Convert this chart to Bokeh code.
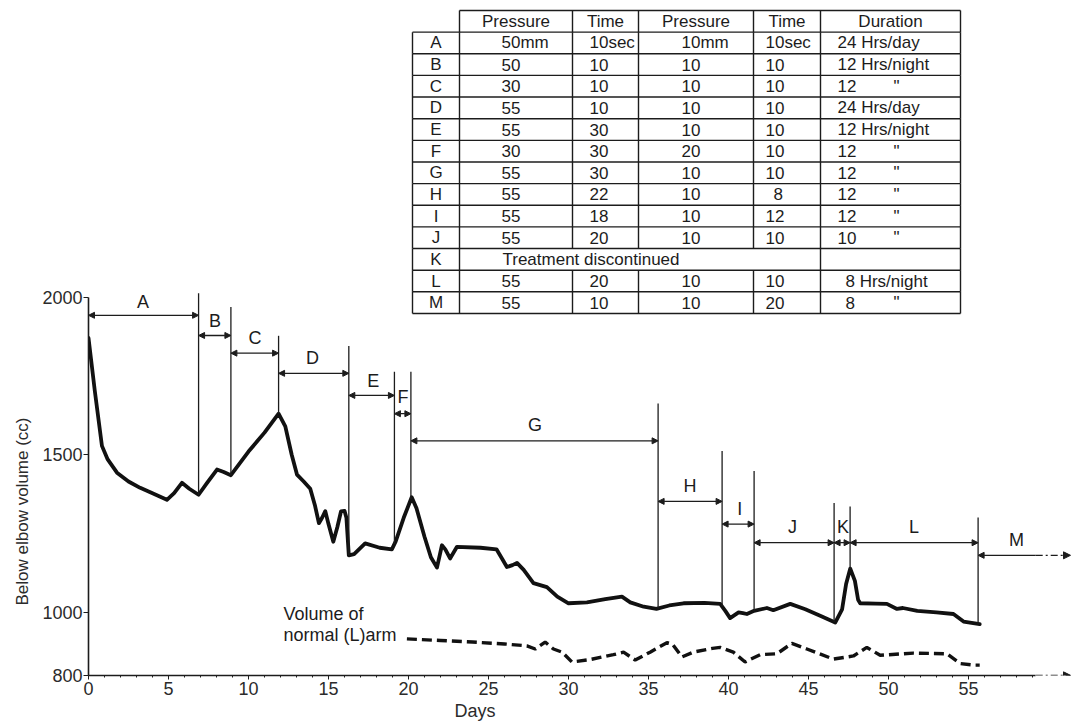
import numpy as np
from bokeh.plotting import figure
from bokeh.models import ColumnDataSource, Arrow, NormalHead, FixedTicker, Range1d, Title
from bokeh.core.properties import value
from bokeh.embed import file_html
from bokeh.resources import INLINE

# ---------------- data ----------------
days = [0.0, 0.4, 0.84, 1.2, 1.78, 2.5, 3.23, 4.0, 4.9, 5.35, 5.84, 6.3, 6.88, 7.4, 8.03, 8.45, 8.9,
        10.0, 11.0, 11.88, 12.3, 12.7, 13.03, 13.45, 13.86, 14.15, 14.4, 14.6, 14.8, 15.0, 15.3,
        15.55, 15.78, 16.0, 16.12, 16.27, 16.6, 17.29, 18.2, 18.96, 19.2, 19.7, 20.2, 20.5, 21.0,
        21.4, 21.78, 22.09, 22.3, 22.6, 23.03, 24.5, 25.5, 25.85, 26.15, 26.5, 26.78, 27.2, 27.81,
        28.65, 29.3, 30.0, 31.15, 32.3, 33.34, 33.86, 34.7, 35.5, 36.3, 37.19, 38.5, 39.48, 39.8,
        40.1, 40.63, 40.9, 41.15, 41.6, 42.4, 42.8, 43.86, 44.8, 45.8, 46.67, 47.1, 47.35, 47.61,
        47.9, 48.1, 48.23, 49.2, 49.9, 50.53, 50.9, 51.8, 53.0, 54.06, 54.69, 55.7]
volume_cc = [1870, 1700, 1528, 1485, 1443, 1415, 1395, 1378, 1357, 1378, 1411, 1392, 1373, 1410, 1453, 1445, 1435,
             1510, 1570, 1630, 1590, 1500, 1437, 1415, 1392, 1340, 1283, 1300, 1321, 1280, 1224,
             1270, 1320, 1322, 1300, 1181, 1185, 1219, 1205, 1200, 1225, 1300, 1365, 1330, 1240,
             1175, 1142, 1213, 1200, 1171, 1208, 1205, 1200, 1170, 1144, 1150, 1157, 1135, 1093,
             1080, 1050, 1029, 1032, 1042, 1050, 1032, 1018, 1011, 1022, 1029, 1030, 1027, 1005,
             982, 1000, 998, 995, 1005, 1014, 1007, 1027, 1010, 988, 968, 1010, 1090, 1139,
             1100, 1040, 1029, 1028, 1027, 1011, 1014, 1005, 1000, 995, 971, 963]

normal_days = [19.9, 22.0, 24.0, 26.0, 27.4, 27.92, 28.54, 29.06, 29.6, 30.21, 31.3, 32.81, 33.44,
               34.17, 35.1, 36.15, 36.5, 37.09, 37.8, 39.0, 39.48, 40.3, 41.04, 41.98, 43.03, 43.96,
               44.9, 46.56, 47.81, 48.65, 49.48, 51.56, 53.65, 54.48, 55.3, 55.7]
normal_cc = [916, 911, 906, 900, 894, 884, 906, 884, 874, 843, 850, 866, 874,
             849, 874, 904, 899, 859, 874, 886, 889, 874, 843, 866, 869, 902,
             884, 852, 862, 889, 864, 871, 869, 838, 833, 833]

phase_names = ["A", "B", "C", "D", "E", "F", "G", "H", "I", "J", "K", "L", "M"]
phase_start = [0.0, 6.88, 8.9, 11.88, 16.27, 19.12, 20.15, 35.6, 39.6, 41.6, 46.6, 47.6, 55.6]
phase_end = [6.88, 8.9, 11.88, 16.27, 19.12, 20.15, 35.6, 39.6, 41.6, 46.6, 47.6, 55.6, 59.2]

x_ticks = [0, 5, 10, 15, 20, 25, 30, 35, 40, 45, 50, 55]
y_ticks = [800, 1000, 1500, 2000]

# table contents
tbl_header = ["Pressure", "Time", "Pressure", "Time", "Duration"]
tbl_codes = ["A", "B", "C", "D", "E", "F", "G", "H", "I", "J", "K", "L", "M"]
pressure_on = ["50mm", "50", "30", "55", "55", "30", "55", "55", "55", "55", "", "55", "55"]
time_on = ["10sec", "10", "10", "10", "30", "30", "30", "22", "18", "20", "", "20", "10"]
pressure_off = ["10mm", "10", "10", "10", "10", "20", "10", "10", "10", "10", "", "10", "10"]
time_off = ["10sec", "10", "10", "10", "10", "10", "10", "8", "12", "10", "", "10", "20"]
duration = ["24 Hrs/day", "12 Hrs/night", '12 "', "24 Hrs/day", "12 Hrs/night", '12 "', '12 "',
            '12 "', '12 "', '10 "', "", "8 Hrs/night", '8 "']
k_note = "Treatment discontinued"

# ---------------- layout (screen geometry) ----------------
W, H = 1073, 725
FL, FB = 88, 50            # frame left / bottom border in px
PX_DAY = 16.0
X_END = (W - FL) / PX_DAY
PX_CC = (674.5 - 296.0) / 1200.0
Y0 = 800
Y1 = Y0 + (H - FB) / PX_CC


def dx(px):  # screen px -> day
    return (px - FL) / PX_DAY


def dy(py):  # screen px -> cc
    return Y0 + (H - FB - py) / PX_CC


FONT = "Liberation Sans"
INK = "#1c1c1c"
GREY = "#2b2b2b"

p = figure(width=W, height=H, x_range=Range1d(0, X_END), y_range=Range1d(Y0, Y1),
           output_backend="svg", toolbar_location=None,
           min_border_left=FL, min_border_right=0, min_border_top=0, min_border_bottom=FB)
p.outline_line_color = None
p.grid.visible = False
p.background_fill_color = "white"
p.border_fill_color = "white"

for ax in (p.xaxis, p.yaxis):
    ax.axis_line_color = INK
    ax.axis_line_width = 1.6
    ax.major_tick_line_color = INK
    ax.minor_tick_line_color = INK
    ax.major_label_text_font = FONT
    ax.major_label_text_font_size = "18px"
    ax.major_label_text_color = GREY
    ax.major_tick_in = 0

p.yaxis.ticker = FixedTicker(ticks=y_ticks)
p.yaxis.bounds = (800, 2000)
p.yaxis.major_tick_out = 5
p.yaxis.minor_tick_out = 0
p.yaxis.minor_tick_in = 0
p.yaxis.major_label_standoff = 1

p.xaxis.ticker = FixedTicker(ticks=x_ticks, minor_ticks=list(range(0, 60)))
p.xaxis.bounds = (0, 59.2)
p.xaxis.major_tick_out = 4
p.xaxis.minor_tick_out = 2
p.xaxis.minor_tick_in = 0
p.xaxis.major_label_standoff = 2

# axis titles placed as side titles so they can be offset like the original
p.add_layout(Title(text="Days", align="left", offset=366, standoff=2, text_font=FONT,
                   text_font_size="18px", text_font_style="normal", text_color=GREY), "below")
p.add_layout(Title(text="Below elbow volume (cc)", align="left", offset=70, standoff=16, text_font=FONT,
                   text_font_size="17px", text_font_style="normal", text_color=GREY), "left")

# axis extension arrow (dash-dot)
p.add_layout(Arrow(x_start=59.2, y_start=800.5, x_end=dx(1070), y_end=800.5,
                   line_color=INK, line_width=1.4, line_dash="7 3 2 3",
                   end=NormalHead(size=7, fill_color=INK, line_color=INK, line_width=1)))

# curves
p.line(days, volume_cc, line_color="#111111", line_width=3.8, line_join="round", line_cap="round")
p.line(normal_days, normal_cc, line_color="#111111", line_width=3.4, line_dash="10 5")

# phase boundary lines, from the curve upward
boundary_days = phase_end[:-1]
boundary_top = [2012, 1968, 1877, 1845, 1763, 1763, 1662, 1512, 1448, 1347, 1336, 1301]
boundary_bottom = list(np.interp(boundary_days, days, volume_cc))
p.segment(x0=boundary_days, y0=boundary_bottom, x1=boundary_days, y1=boundary_top,
          line_color=INK, line_width=1.3)

# phase arrows
arrow_level = [1942, 1878, 1822, 1758, 1688, 1630, 1544, 1352, 1280, 1221, 1221, 1221, 1181]
label_x = [3.4, 7.9, 10.4, 14.0, 17.8, 19.65, 27.9, 37.6, 40.7, 44.0, 47.15, 51.6, 58.0]
label_y = [1985, 1923, 1870, 1806, 1734, 1683, 1593, 1400, 1328, 1272, 1272, 1272, 1229]

arr_src = ColumnDataSource(dict(x0=phase_start[:-1], x1=phase_end[:-1], y=arrow_level[:-1]))
p.add_layout(Arrow(x_start="x0", y_start="y", x_end="x1", y_end="y", source=arr_src,
                   line_color=INK, line_width=1.3,
                   start=NormalHead(size=6, fill_color=INK, line_color=INK, line_width=1),
                   end=NormalHead(size=6, fill_color=INK, line_color=INK, line_width=1)))
# M: open-ended treatment
p.add_layout(Arrow(x_start=phase_end[-1], y_start=arrow_level[-1], x_end=phase_start[-1], y_end=arrow_level[-1],
                   line_color=INK, line_width=1.3,
                   end=NormalHead(size=6, fill_color=INK, line_color=INK, line_width=1)))
p.add_layout(Arrow(x_start=phase_end[-1], y_start=arrow_level[-1], x_end=dx(1070), y_end=arrow_level[-1],
                   line_color=INK, line_width=1.3, line_dash="7 3 2 3",
                   end=NormalHead(size=7, fill_color=INK, line_color=INK, line_width=1)))

p.text(x=label_x, y=label_y, text=phase_names, text_align="center", text_baseline="middle",
       text_font=value(FONT), text_font_size="18px", text_color=INK)

# normal arm caption
p.text(x=[dx(283)] * 2, y=[dy(613), dy(634)], text=["Volume of", "normal (L)arm"],
       text_align="left", text_baseline="middle", text_font=value(FONT),
       text_font_size="18px", text_color=INK)

# ---------------- table ----------------
cols = [412, 459, 572, 638, 753, 820, 960]
row_top, row_h = 10, 21.64
n_rows = len(tbl_codes) + 1
k_idx = tbl_codes.index("K") + 1

hx0, hx1, hy = [], [], []
for r in range(n_rows + 1):
    yy = row_top + r * row_h
    hx0.append(dx(cols[0] if r > 0 else cols[1]))
    hx1.append(dx(cols[-1]))
    hy.append(dy(yy))
p.segment(x0=hx0, y0=hy, x1=hx1, y1=hy, line_color=INK, line_width=1.4)

vx, vy0, vy1 = [], [], []
for ci, c in enumerate(cols):
    for r in range(n_rows):
        if ci == 0 and r == 0:
            continue
        if ci in (2, 3, 4) and r == k_idx:
            continue
        vx.append(dx(c))
        vy0.append(dy(row_top + r * row_h))
        vy1.append(dy(row_top + (r + 1) * row_h))
p.segment(x0=vx, y0=vy0, x1=vx, y1=vy1, line_color=INK, line_width=1.4)

tx, ty, tt, ta = [], [], [], []
for i, h in enumerate(tbl_header):
    tx.append(dx((cols[i + 1] + cols[i + 2]) / 2)); ty.append(dy(row_top + row_h / 2))
    tt.append(h); ta.append("center")

col_left = [501, 589, 681, 765, 837]
ditto_x = 896
digit_w = 8
columns = [pressure_on, time_on, pressure_off, time_off, duration]
for r, code in enumerate(tbl_codes):
    yc = dy(row_top + (r + 1.5) * row_h)
    tx.append(dx((cols[0] + cols[1]) / 2)); ty.append(yc); tt.append(code); ta.append("center")
    if code == "K":
        tx.append(dx(502)); ty.append(yc); tt.append(k_note); ta.append("left")
        continue
    for ci, col in enumerate(columns):
        s = col[r]
        if not s:
            continue
        lead = s.split(" ")[0]
        num = "".join(ch for ch in lead if ch.isdigit())
        off = digit_w if len(num) == 1 else 0
        if s.endswith('"'):
            tx.append(dx(ditto_x)); ty.append(yc); tt.append('"'); ta.append("center")
            s = s[:-1].strip()
        tx.append(dx(col_left[ci] + off)); ty.append(yc); tt.append(s); ta.append("left")

p.text(x=tx, y=ty, text=tt, text_align=ta, text_baseline="middle",
       text_font=value(FONT), text_font_size="17px", text_color=INK)

open("out.html", "w").write(file_html(p, INLINE))
